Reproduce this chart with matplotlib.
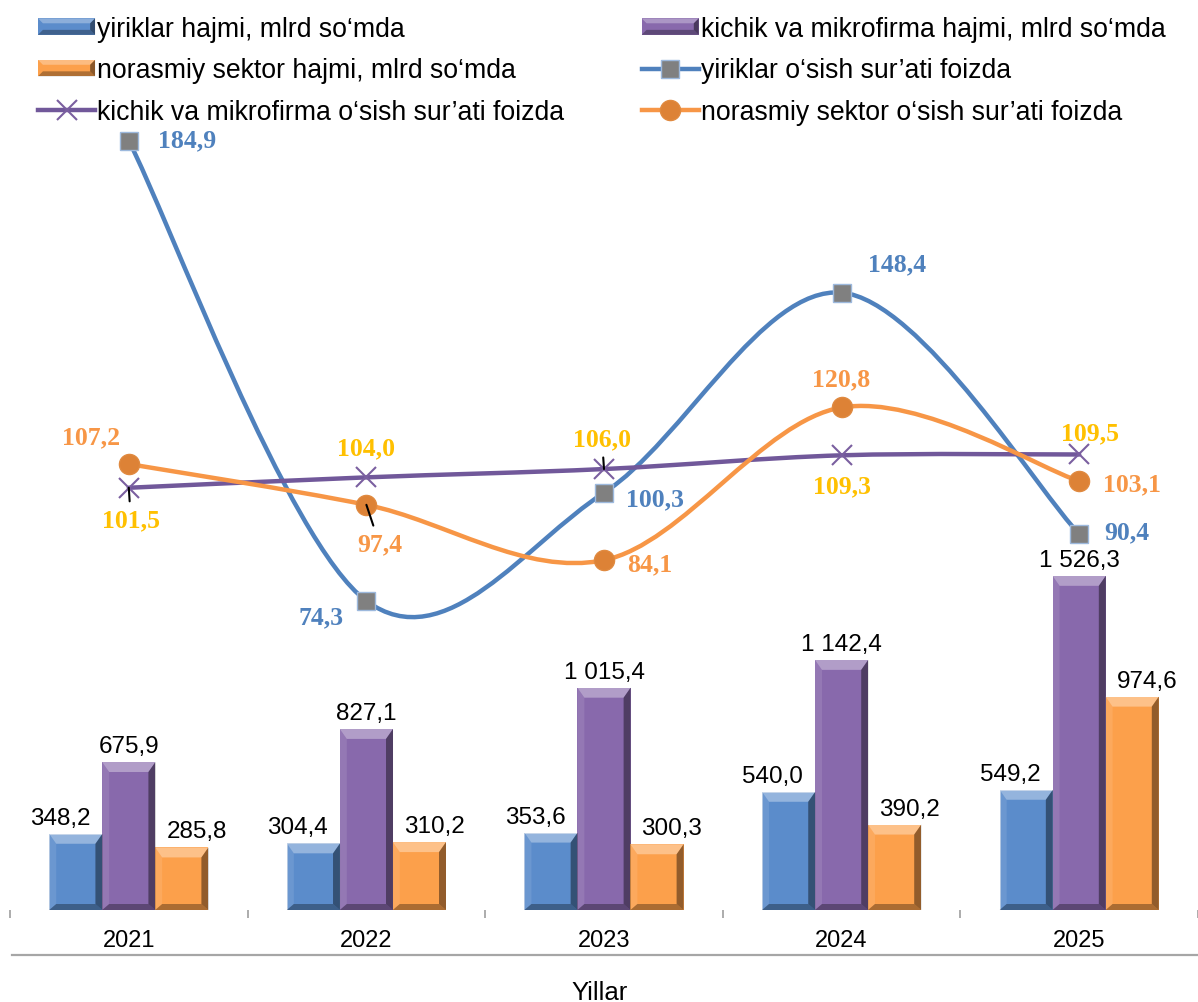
import numpy as np
import matplotlib
matplotlib.use("Agg")
import matplotlib.pyplot as plt
from matplotlib.patches import Rectangle, Polygon, PathPatch
from matplotlib.path import Path
from matplotlib.lines import Line2D
from matplotlib.legend_handler import HandlerBase

plt.rcParams["font.family"] = ["Liberation Sans", "DejaVu Sans"]

years = ["2021", "2022", "2023", "2024", "2025"]
big_vol = [348.2, 304.4, 353.6, 540.0, 549.2]        # yiriklar hajmi
small_vol = [675.9, 827.1, 1015.4, 1142.4, 1526.3]   # kichik va mikrofirma hajmi
info_vol = [285.8, 310.2, 300.3, 390.2, 974.6]       # norasmiy sektor hajmi
big_gr = [184.9, 74.3, 100.3, 148.4, 90.4]
small_gr = [101.5, 104.0, 106.0, 109.3, 109.5]
info_gr = [107.2, 97.4, 84.1, 120.8, 103.1]

bar_labels = ["yiriklar hajmi, mlrd so\u2018mda",
              "kichik va mikrofirma hajmi, mlrd so\u2018mda",
              "norasmiy sektor hajmi, mlrd so\u2018mda"]
line_labels = ["yiriklar o\u2018sish sur\u2019ati foizda",
               "kichik va mikrofirma o\u2018sish sur\u2019ati foizda",
               "norasmiy sektor o\u2018sish sur\u2019ati foizda"]

BLUE, PURPLE, ORANGE = "#5B8CCB", "#8869AC", "#FCA04B"
LBLUE, LPURPLE, LORANGE = "#4F81BD", "#71589A", "#F79646"
YELLOW = "#FFC000"

W, H = 1198, 1003
fig = plt.figure(figsize=(W / 100, H / 100), dpi=100)
ax = fig.add_axes([10 / W, (H - 911) / H, 1188 / W, (911 - 79) / H])
ax.set_xlim(-0.5, 4.5)
ax.set_ylim(0, 3800)
ax2 = ax.twinx()
ax2.set_ylim(0, 200)
for a in (ax, ax2):
    for s in a.spines.values():
        s.set_visible(False)
    a.set_yticks([])


def fmt(v):
    return f"{v:,.1f}".replace(",", " ").replace(".", ",")


def bevel(ax, rect, bt=10, bs=7, bb=6):
    # fake Excel bevel: light top/left strips, dark right/bottom strips
    x0, y0 = rect.get_x(), rect.get_y()
    x1, y1 = x0 + rect.get_width(), y0 + rect.get_height()
    (p0x, p0y), (p1x, p1y) = ax.transData.transform([(x0, y0), (x1, y1)])
    BL, BR, TR, TL = (p0x, p0y), (p1x, p0y), (p1x, p1y), (p0x, p1y)
    bl, br = (p0x + bs, p0y + bb), (p1x - bs, p0y + bb)
    tr, tl = (p1x - bs, p1y - bt), (p0x + bs, p1y - bt)
    inv = ax.transData.inverted()
    parts = [([TL, TR, tr, tl], "white", 0.35),
             ([BL, TL, tl, bl], "white", 0.10),
             ([BR, TR, tr, br], "black", 0.42),
             ([BL, BR, br, bl], "black", 0.32)]
    for pts, c, al in parts:
        ax.add_patch(Polygon(inv.transform(pts), closed=True, facecolor=c,
                             alpha=al, edgecolor="none", zorder=3))


x = np.arange(len(years))
bw, off = 0.224, 0.223
lab_dx = [-16, 0, 15]
for k, (vals, col) in enumerate([(big_vol, BLUE), (small_vol, PURPLE), (info_vol, ORANGE)]):
    bars = ax.bar(x + (k - 1) * off, vals, bw, color=col, edgecolor="#A9C0DE" if k == 0 else "none",
                  linewidth=0.6, zorder=2)
    for r, v in zip(bars, vals):
        bevel(ax, r)
        ax.annotate(fmt(v), (r.get_x() + r.get_width() / 2, v), xytext=(lab_dx[k], 16),
                    textcoords="offset pixels", ha="center", va="center", fontsize=17.5)


def smooth(xs, ys):
    p = np.column_stack([xs, ys]).astype(float)
    verts, codes = [p[0]], [Path.MOVETO]
    n = len(p)
    for i in range(n - 1):
        a, b, c, d = p[max(i - 1, 0)], p[i], p[i + 1], p[min(i + 2, n - 1)]
        verts += [b + (c - a) / 6, c - (d - b) / 6, c]
        codes += [Path.CURVE4] * 3
    return Path(verts, codes)


series = [(big_gr, LBLUE, dict(marker="s", ms=13, mfc="#808080", mec="#9DB9DD", mew=1.0), 4),
          (small_gr, LPURPLE, dict(marker="x", ms=14, mec="#7A5FA0", mew=1.5), 5),
          (info_gr, LORANGE, dict(marker="o", ms=14.5, mfc="#DD8236", mec="#E08A40", mew=1.0), 6)]
for vals, col, mk, z in series:
    ax2.add_patch(PathPatch(smooth(x, vals), facecolor="none", edgecolor=col, lw=3.2,
                            capstyle="round", zorder=z))
    ax2.plot(x, vals, ls="none", zorder=z + 0.5, **mk)

lbl_font = dict(family="Liberation Serif", weight="bold", fontsize=18.5)
big_off = [(58, 1), (-45, -16), (51, -6), (55, 29), (48, 2)]
info_off = [(-38, 27), (13, -39), (46, -4), (0, 29), (53, -3)]
small_off = [(2, -32), (0, 30), (-2, 30), (0, -31), (11, 22)]
leaders = {("info", 1), ("small", 0), ("small", 2)}
for name, vals, offs, col in [("big", big_gr, big_off, LBLUE), ("info", info_gr, info_off, LORANGE),
                              ("small", small_gr, small_off, YELLOW)]:
    for i, (v, o) in enumerate(zip(vals, offs)):
        ap = dict(arrowstyle="-", color="black", lw=1.5, shrinkA=3, shrinkB=0) if (name, i) in leaders else None
        ax2.annotate(fmt(v), (i, v), xytext=o, textcoords="offset pixels", ha="center", va="center",
                     color=col, arrowprops=ap, zorder=8, **lbl_font)

ax.set_xticks(x)
ax.set_xticklabels(years)
ax.set_xticks(np.arange(-0.5, 5, 1), minor=True)
ax.tick_params(axis="x", which="major", length=0, pad=14, labelsize=17)
ax.tick_params(axis="x", which="minor", length=6, width=1.3, color="#A6A6A6", direction="out")

fig.add_artist(Line2D([12 / W, 1], [1 - 956 / H] * 2, transform=fig.transFigure, color="#A6A6A6", lw=1.6))
fig.text(600 / W, 1 - 1000 / H, "Yillar", ha="center", va="baseline", fontsize=18.5)


class BevelHandler(HandlerBase):
    def create_artists(self, legend, orig, xd, yd, width, height, fontsize, trans):
        x0, y0 = -xd, -yd
        x1, y1 = x0 + width, y0 + height
        b = height * 0.3
        arts = [Rectangle((x0, y0), width, height, facecolor=orig.get_facecolor(), edgecolor="none",
                          transform=trans)]
        parts = [([(x0, y1), (x1, y1), (x1 - b, y1 - b), (x0 + b, y1 - b)], "white", 0.3),
                 ([(x1, y0), (x1, y1), (x1 - b, y1 - b), (x1 - b, y0 + b)], "black", 0.45),
                 ([(x0, y0), (x1, y0), (x1 - b, y0 + b), (x0 + b, y0 + b)], "black", 0.3)]
        for pts, c, al in parts:
            arts.append(Polygon(pts, closed=True, facecolor=c, alpha=al, edgecolor="none", transform=trans))
        return arts


hb = [Rectangle((0, 0), 1, 1, facecolor=c) for c in (BLUE, PURPLE, ORANGE)]
hl = [Line2D([], [], color=col, lw=3.2, **mk) for _, col, mk, _ in series]
handles = [hb[0], hb[2], hl[1], hb[1], hl[0], hl[2]]
labels = [bar_labels[0], bar_labels[2], line_labels[1], bar_labels[1], line_labels[0], line_labels[2]]
fig.legend(handles, labels, loc="upper left", bbox_to_anchor=(38 / W, 1 - 17 / H), ncol=2, frameon=False,
           fontsize=19.2, handlelength=2.14, handleheight=0.57, handletextpad=0.08, labelspacing=0.58,
           columnspacing=2.9, borderpad=0, borderaxespad=0,
           handler_map={Rectangle: BevelHandler()})

fig.savefig("out.png", dpi=100)
